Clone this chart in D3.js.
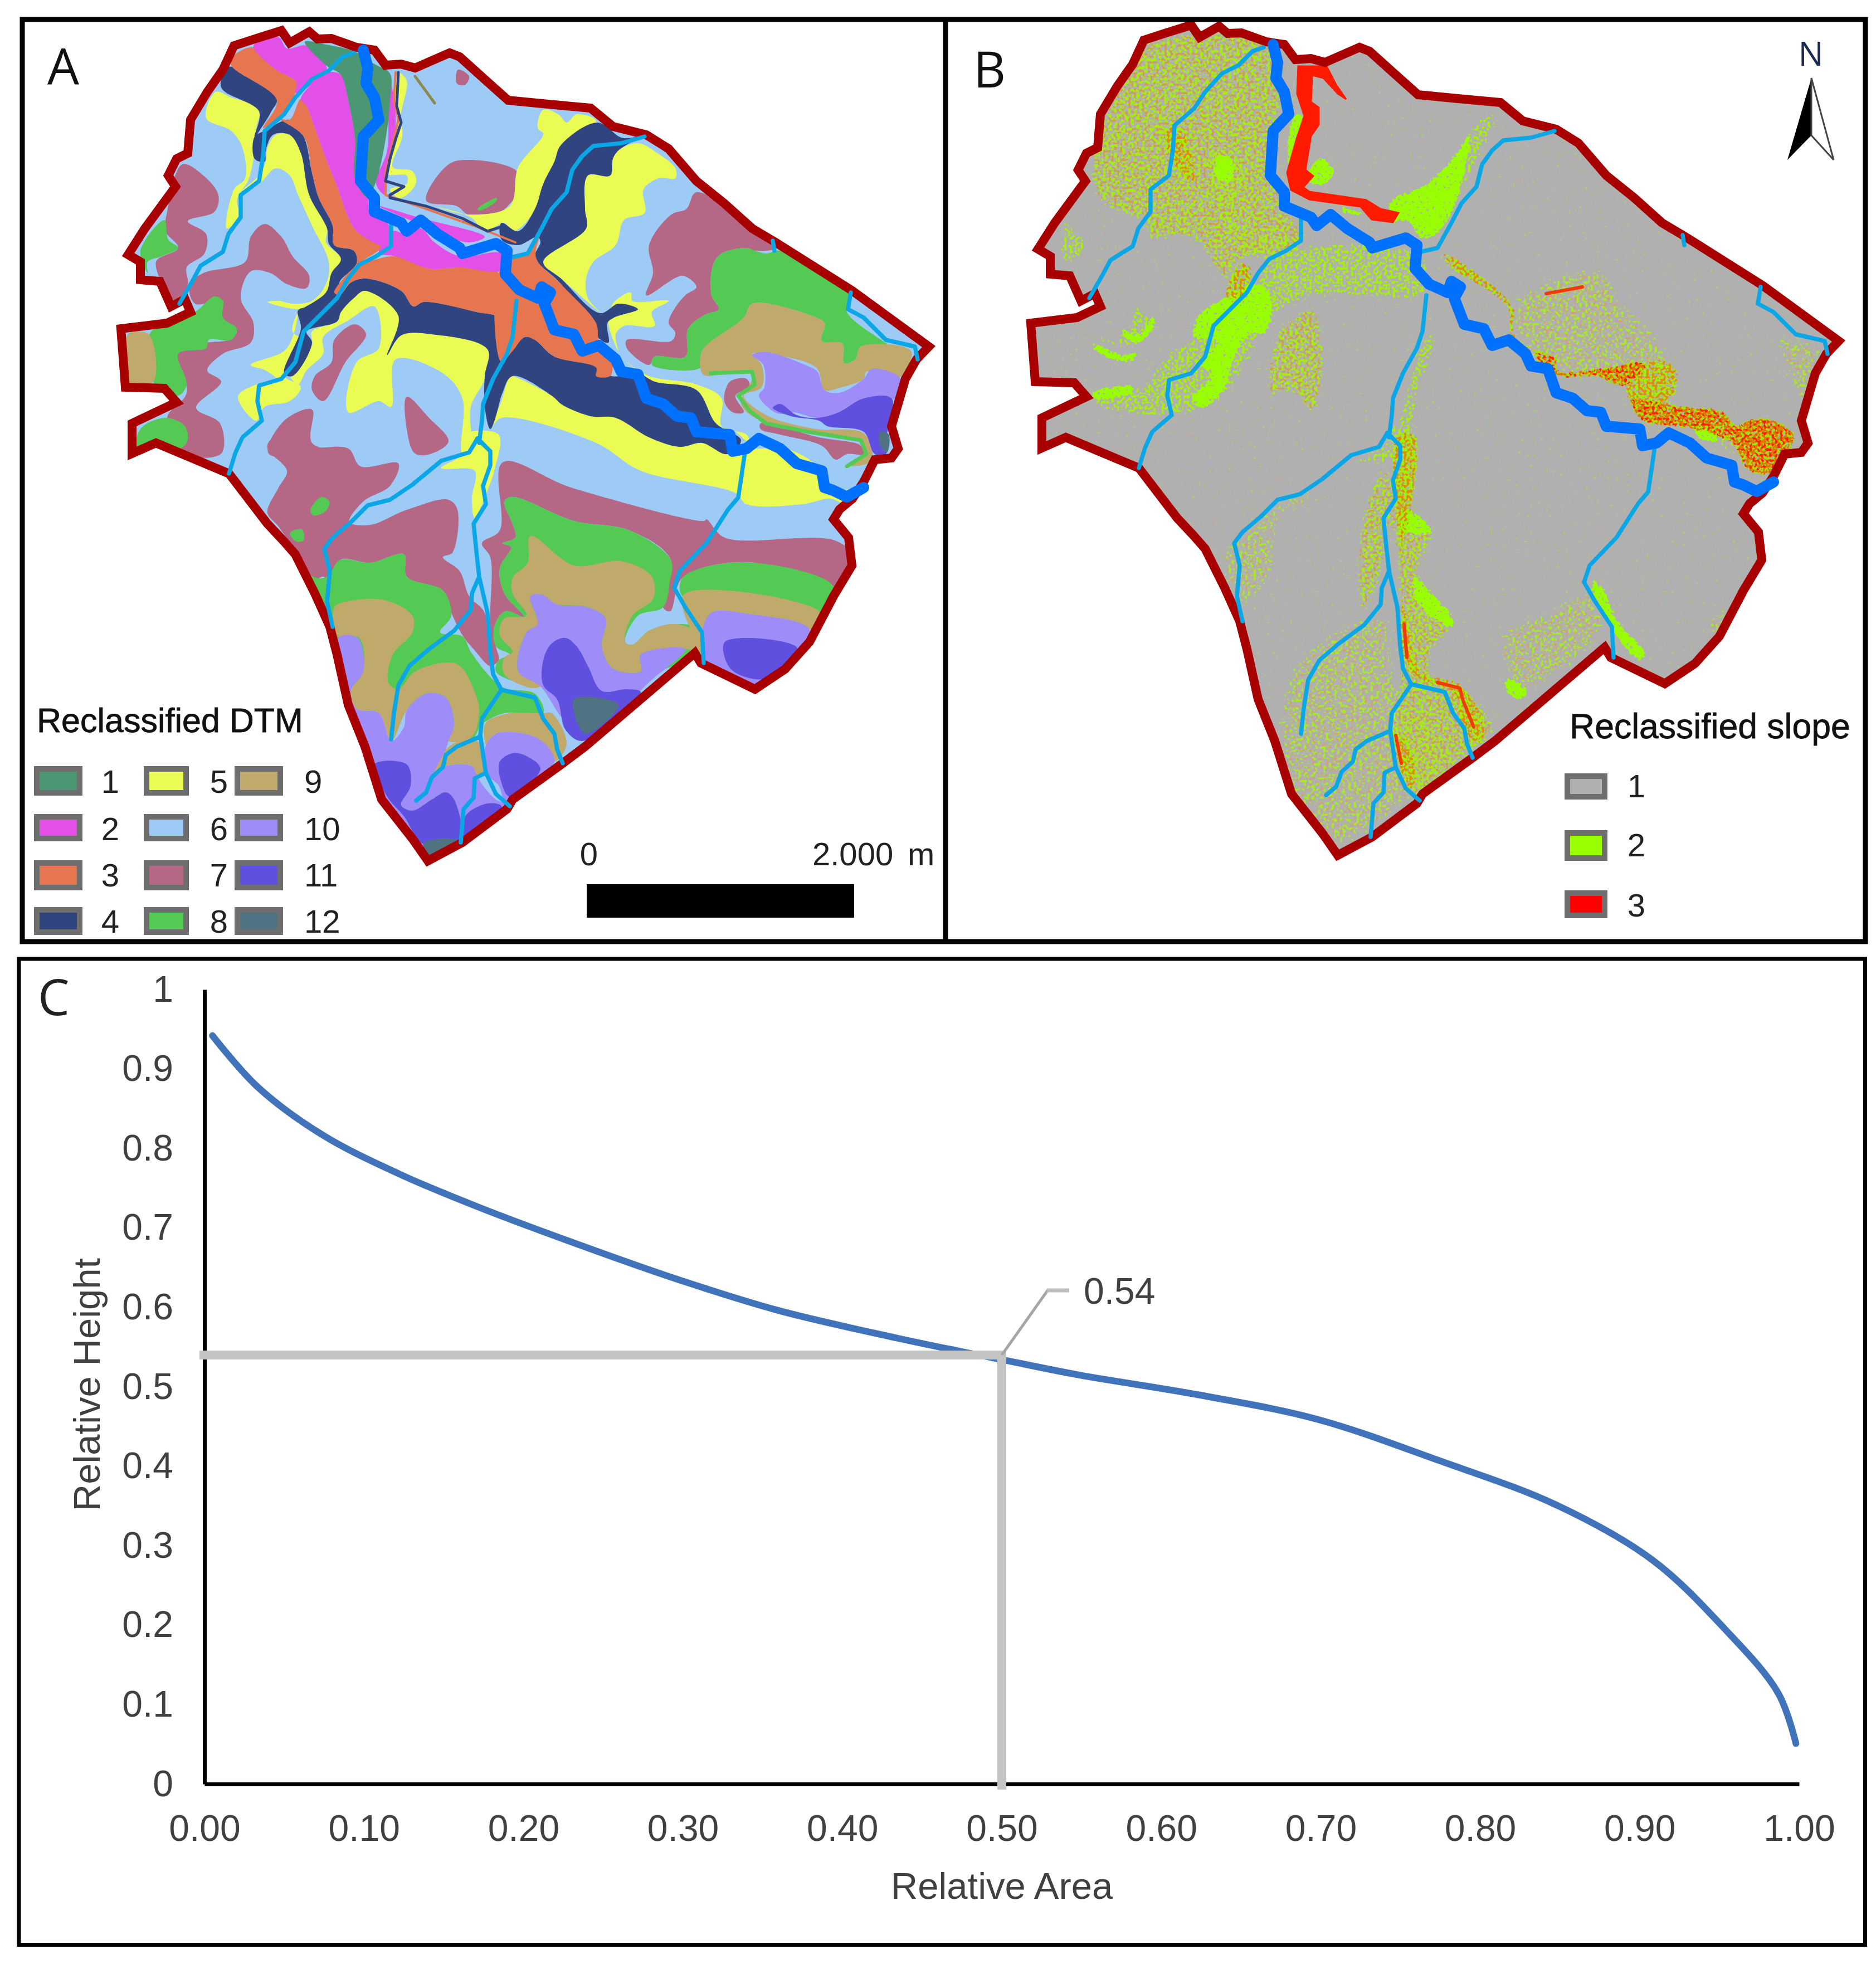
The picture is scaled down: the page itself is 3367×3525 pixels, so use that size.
<!DOCTYPE html>
<html>
<head>
<meta charset="utf-8">
<script src="https://cdn.jsdelivr.net/npm/d3@7/dist/d3.min.js"></script>
<style>
  html, body { margin: 0; background: #fff; }
  text { font-family: "Liberation Sans", Arial, sans-serif; }
  .letter { font-family: "Open Sans", sans-serif; }
  .map-text { stroke: #111; stroke-width: 0.8; }
</style>
</head>
<body>
<svg id="fig" width="3367" height="3525"></svg>
<script>
// ---- chart C values
const curveArea = [0.005, 0.033, 0.074, 0.122, 0.172, 0.247, 0.30, 0.36, 0.435, 0.473, 0.503, 0.548, 0.623, 0.698, 0.773, 0.848, 0.908, 0.953, 0.987, 0.998];
const curveHeight = [0.942, 0.878, 0.817, 0.768, 0.726, 0.67, 0.633, 0.596, 0.561, 0.545, 0.533, 0.515, 0.49, 0.459, 0.408, 0.351, 0.282, 0.196, 0.114, 0.051];
const xTicks = [0, 0.1, 0.2, 0.3, 0.4, 0.5, 0.6, 0.7, 0.8, 0.9, 1];
const yTicks = [0, 0.1, 0.2, 0.3, 0.4, 0.5, 0.6, 0.7, 0.8, 0.9, 1];
const guideArea = 0.5;
const guideHeight = 0.54;

// ---- map legends
const dtmClasses = [1, 2, 3, 4, 5, 6, 7, 8, 9, 10, 11, 12];
const dtmColors = ["#4B9673", "#E350E8", "#E5764F", "#30457F", "#EAFC54", "#9ECAF6", "#B56786", "#54C954", "#BFAA6C", "#9E8CF8", "#5F50E0", "#507383"];
const slopeClasses = [1, 2, 3];
const slopeColors = ["#B0B0B0", "#99FF00", "#FF0000"];
const scaleBarMetres = [0, 2000];

// ---- basin outline and streams, map units
const basin = [[420,82],[460,69],[505,55],[520,77],[555,57],[570,70],[595,69],[640,85],[672,90],[692,117],[720,115],[745,122],[807,95],[825,102],[875,147],[912,180],[984,187],[1060,194],[1100,227],[1160,242],[1200,267],[1250,325],[1300,365],[1350,410],[1392,435],[1530,522],[1667,622],[1645,645],[1625,680],[1600,765],[1612,805],[1600,822],[1570,825],[1550,865],[1530,895],[1507,914],[1496,932],[1523,965],[1529,1015],[1496,1070],[1453,1152],[1409,1201],[1355,1237],[1258,1190],[1247,1172],[1050,1340],[1010,1370],[920,1435],[910,1452],[830,1512],[768,1545],[740,1505],[685,1435],[655,1340],[625,1265],[605,1175],[592,1125],[565,1065],[530,995],[510,972],[480,940],[411,850],[280,795],[237,814],[237,760],[317,722],[295,697],[225,695],[217,590],[300,580],[342,560],[332,537],[307,550],[287,505],[252,502],[252,470],[230,457],[260,410],[315,335],[302,315],[317,285],[337,275],[342,215],[372,165],[400,125]];

const mainStem = [[652,90],[660,122],[657,150],[672,175],[680,215],[652,245],[647,325],[672,355],[672,380],[720,400],[730,415],[755,395],[785,420],[825,445],[830,455],[890,437],[910,450],[907,492],[932,520],[965,535],[972,515],[988,525],[977,545],[995,592],[1030,600],[1045,630],[1075,620],[1105,645],[1115,667],[1145,672],[1160,715],[1190,725],[1215,747],[1240,750],[1250,775],[1310,780],[1315,810],[1340,805],[1362,787],[1400,805],[1430,832],[1475,845],[1480,875],[1495,880],[1520,892],[1550,875]];
const tributaries = [
  [[635,95],[615,102],[590,127],[560,142],[530,175],[510,205],[475,235],[472,280],[465,325],[432,350],[432,390],[410,420],[400,452],[360,477],[345,505],[322,545]],
  [[702,402],[702,442],[675,460],[645,475],[625,500],[605,535],[570,570],[545,595],[530,650],[505,680],[465,692],[462,720],[470,755],[435,785],[422,814],[411,850]],
  [[927,540],[920,605],[910,635],[885,680],[867,725],[865,755],[860,795],[857,787]],
  [[857,787],[842,812],[792,827],[740,870],[700,897],[660,907],[630,937],[597,965],[582,985],[592,1025],[587,1080],[597,1125]],
  [[857,787],[880,810],[880,835],[867,872],[872,905],[850,940],[855,990],[860,1035],[875,1100],[880,1170],[885,1210],[900,1238]],
  [[860,1035],[847,1065],[845,1095],[815,1132],[770,1165],[735,1195],[715,1230],[707,1280],[702,1327]],
  [[900,1238],[960,1252],[975,1290],[995,1317],[1000,1345],[1010,1370]],
  [[900,1238],[865,1290],[862,1320],[872,1387]],
  [[862,1322],[820,1340],[800,1355],[795,1377],[775,1395],[765,1422],[747,1437]],
  [[872,1387],[852,1397],[850,1432],[832,1452],[827,1512]],
  [[872,1387],[890,1425],[915,1447]],
  [[1157,245],[1115,257],[1065,262],[1045,280],[1027,305],[1017,345],[990,375],[972,410],[947,455],[917,462]],
  [[1527,525],[1522,555],[1550,570],[1590,610],[1642,622],[1647,645]],
  [[1337,812],[1330,860],[1325,893],[1307,914],[1268,975],[1220,1025],[1210,1055],[1230,1090],[1260,1135],[1263,1190]],
  [[1387,432],[1390,450]]
];

// ---- panel A, zones per DTM class (painted in this order over class 6)
const mauveZones = [
  [[327,295],[365,315],[392,350],[385,380],[337,397],[370,420],[367,455],[335,480],[337,510],[315,540],[280,470],[320,445],[297,415],[300,380]],
  [[340,510],[365,490],[440,470],[450,425],[475,402],[505,425],[525,460],[555,495],[550,517],[515,510],[485,490],[450,487],[432,535],[455,580],[450,615],[400,635],[372,665],[397,685],[352,732],[395,760],[397,814],[330,814],[300,750],[335,705],[320,630],[370,615],[410,610],[425,595],[395,565],[400,540],[350,545]],
  [[637,582],[657,600],[620,650],[580,720],[560,700],[565,675],[595,650],[600,610]],
  [[730,712],[770,750],[805,792],[775,814],[745,814],[730,770]],
  [[765,360],[805,295],[845,287],[925,305],[937,330],[920,360],[890,385],[840,385],[820,370]],
  [[822,125],[842,137],[835,152],[820,150]],
  [[480,920],[500,875],[515,845],[480,805],[485,790],[550,770],[555,800],[625,805],[647,837],[715,832],[700,872],[652,900],[627,937],[665,942],[730,915],[805,897],[821,915],[812,992],[795,1000],[825,1025],[842,1070],[870,1100],[880,1195],[850,1165],[830,1140],[810,1100],[795,1060],[730,1035],[725,995],[665,1010],[610,1005],[600,1050],[580,1035],[565,1040],[530,990],[500,945]],
  [[482,814],[510,755],[560,735],[560,795],[630,814]],
  [[902,830],[1025,875],[1264,935],[1268,932],[1301,965],[1501,971],[1539,1009],[1507,1059],[1344,1009],[1225,1037],[1203,1097],[1190,1090],[1204,1005],[1130,952],[1030,935],[920,892],[905,900],[920,940],[925,965],[902,975],[917,982],[897,1020],[905,1065],[940,1107],[907,1097],[887,1125],[890,1160],[895,1185],[880,1195],[880,1100],[880,1000],[865,975],[897,952]],
  [[1250,345],[1392,445],[1355,450],[1340,445],[1295,455],[1280,475],[1277,530],[1290,555],[1265,565],[1235,590],[1230,640],[1175,640],[1165,655],[1125,625],[1125,610],[1205,612],[1212,597],[1200,580],[1210,555],[1230,530],[1250,515],[1225,495],[1160,530],[1172,490],[1165,440],[1205,385],[1232,375]],
  [[1310,685],[1340,680],[1345,695],[1320,710],[1335,740],[1315,740],[1300,720]],
  [[1365,760],[1470,785],[1545,800],[1550,815],[1520,815],[1500,825],[1475,800],[1400,780],[1365,770]]
];
const greenZones = [
  [[252,450],[295,395],[302,430],[320,445],[290,460],[265,470],[265,490]],
  [[270,597],[350,560],[385,532],[400,540],[400,570],[425,590],[415,610],[375,610],[370,625],[320,635],[335,690],[320,710],[275,685]],
  [[252,770],[297,750],[332,765],[335,795],[300,814],[270,810],[245,820]],
  [[857,375],[892,355],[890,362],[860,378]],
  [[557,915],[577,892],[591,900],[585,917],[562,925]],
  [[520,957],[542,950],[545,970],[532,972]],
  [[530,990],[562,1035],[587,1035],[610,1005],[665,1010],[725,995],[730,1035],[795,1060],[810,1105],[790,1135],[830,1142],[845,1170],[880,1215],[905,1235],[960,1245],[975,1280],[905,1280],[865,1300],[847,1325],[780,1280],[705,1255],[630,1230],[590,1105]],
  [[905,900],[920,892],[1030,935],[1130,952],[1204,1005],[1202,1045],[1190,1090],[1145,1105],[1122,1152],[1135,1157],[1165,1132],[1215,1120],[1264,1130],[1264,1165],[1080,1230],[1005,1230],[930,1225],[890,1205],[895,1185],[915,1175],[890,1160],[887,1125],[907,1097],[940,1107],[905,1065],[897,1020],[917,982],[902,975],[925,965],[920,940]],
  [[1225,1037],[1333,1009],[1496,1053],[1474,1102],[1344,1064],[1225,1070]],
  [[1295,455],[1340,445],[1355,450],[1375,455],[1400,450],[1525,525],[1520,560],[1605,630],[1545,622],[1535,645],[1515,652],[1512,617],[1475,612],[1480,580],[1465,570],[1350,545],[1335,570],[1260,630],[1257,660],[1170,655],[1175,640],[1230,640],[1235,590],[1265,565],[1290,555],[1277,530],[1280,475]]
];
const tanZones = [
  [[230,600],[267,600],[275,685],[230,685]],
  [[600,1090],[620,1080],[690,1077],[740,1105],[740,1135],[705,1175],[697,1225],[715,1237],[745,1205],[820,1192],[855,1250],[860,1280],[847,1322],[805,1330],[815,1300],[800,1252],[765,1245],[730,1275],[702,1330],[680,1280],[640,1272],[630,1240],[652,1205],[645,1145],[605,1142]],
  [[800,1345],[847,1325],[867,1345],[872,1387],[852,1392],[847,1375],[800,1375],[780,1387]],
  [[870,1300],[905,1282],[975,1280],[990,1280],[1017,1335],[995,1367],[965,1325],[895,1315],[880,1325],[875,1345]],
  [[952,962],[1030,1015],[1115,1007],[1170,1035],[1172,1075],[1135,1105],[1122,1152],[1135,1157],[1165,1132],[1215,1120],[1264,1145],[1264,1170],[1230,1165],[1150,1175],[1150,1205],[1100,1200],[1080,1160],[1087,1110],[1055,1090],[1000,1085],[952,1070],[965,1120],[945,1135],[930,1205],[972,1230],[955,1235],[905,1210],[905,1180],[920,1170],[897,1140],[905,1110],[945,1105],[920,1065],[920,1037],[947,1010]],
  [[1225,1070],[1344,1064],[1474,1102],[1453,1130],[1344,1102],[1274,1108],[1263,1163]],
  [[1260,630],[1335,570],[1350,545],[1465,570],[1480,580],[1475,612],[1512,617],[1515,652],[1535,645],[1545,622],[1635,630],[1615,677],[1555,667],[1550,680],[1510,695],[1480,700],[1465,660],[1375,635],[1350,635],[1367,655],[1367,695],[1335,710],[1375,745],[1465,770],[1545,775],[1565,800],[1560,830],[1520,835],[1550,815],[1545,790],[1480,780],[1375,760],[1330,725],[1350,675],[1325,665],[1270,675],[1260,670]]
];
const violetZones = [
  [[607,1145],[642,1145],[652,1205],[630,1240],[640,1272],[680,1280],[702,1330],[725,1305],[730,1275],[765,1245],[800,1252],[815,1300],[805,1330],[800,1345],[780,1387],[800,1375],[847,1375],[855,1390],[867,1410],[890,1435],[910,1445],[830,1515],[765,1545],[740,1505],[685,1430],[650,1330]],
  [[880,1325],[895,1315],[965,1325],[995,1367],[910,1445],[895,1410],[872,1387],[870,1345]],
  [[952,1070],[972,1067],[1000,1085],[1055,1090],[1087,1110],[1080,1160],[1100,1200],[1150,1205],[1150,1175],[1230,1165],[1170,1220],[1050,1320],[1010,1290],[970,1232],[930,1205],[945,1135],[965,1120]],
  [[1274,1102],[1344,1102],[1453,1130],[1420,1185],[1355,1234],[1263,1185]],
  [[1350,637],[1375,632],[1445,655],[1467,667],[1480,700],[1507,705],[1550,680],[1565,662],[1617,680],[1605,717],[1550,715],[1505,740],[1467,750],[1425,740],[1395,742],[1362,710],[1372,695],[1370,655]]
];
const indigoZones = [
  [[672,1372],[730,1372],[737,1410],[720,1445],[740,1455],[775,1435],[800,1422],[815,1435],[825,1505],[760,1515],[725,1465],[695,1430]],
  [[835,1465],[875,1442],[900,1447],[830,1510]],
  [[897,1367],[920,1352],[945,1357],[970,1380],[915,1430],[900,1405]],
  [[990,1155],[1015,1145],[1035,1160],[1055,1195],[1080,1240],[1125,1237],[1150,1242],[1045,1330],[1015,1310],[1000,1255],[975,1230],[975,1185]],
  [[1301,1152],[1431,1163],[1377,1218],[1312,1201]],
  [[1387,732],[1400,725],[1430,745],[1467,750],[1505,740],[1550,715],[1600,715],[1592,780],[1590,815],[1570,815],[1550,775],[1485,765],[1470,755],[1420,747]]
];
const slateZones = [
  [[760,1515],[790,1505],[825,1510],[775,1545]],
  [[1030,1255],[1110,1265],[1050,1317]],
  [[1580,775],[1595,780],[1592,812],[1580,800]]
];
const yellowZones = [
  [[880,770],[900,720],[915,675],[920,675],[990,710],[1010,727],[1060,747],[1105,750],[1165,785],[1220,802],[1260,795],[1305,815],[1340,807],[1370,805],[1410,805],[1465,835],[1490,880],[1525,880],[1520,905],[1490,895],[1440,905],[1340,905],[1320,885],[1150,845],[1070,795],[900,750]],
  [[832,780],[895,780],[887,845],[875,880],[852,930],[847,895],[852,845],[792,840],[830,815]],
  [[387,165],[415,175],[465,195],[460,230],[455,285],[445,325],[435,340],[425,360],[430,390],[407,410],[420,340],[440,320],[435,265],[415,235],[370,212]],
  [[480,265],[495,242],[520,242],[540,275],[555,350],[587,410],[585,435],[612,465],[595,505],[585,530],[560,550],[532,555],[480,542],[500,540],[525,545],[560,540],[585,510],[590,470],[560,405],[535,350],[520,315],[495,302],[465,330],[435,342],[465,315],[477,290]],
  [[535,560],[527,600],[510,630],[450,655],[477,665],[500,685],[460,690],[427,712],[460,755],[475,730],[520,720],[540,695],[510,675],[525,660],[560,620],[525,595]],
  [[560,595],[605,577],[612,560],[635,535],[655,522],[715,567],[695,637],[720,602],[775,600],[875,627],[870,680],[845,730],[845,814],[830,814],[830,715],[795,670],[710,645],[702,730],[680,720],[625,740],[640,650],[680,625],[672,550],[625,575],[580,605],[580,635],[550,665],[535,690],[520,670],[560,620]],
  [[975,197],[1002,205],[1017,220],[1035,205],[1070,217],[1007,260],[995,290],[975,330],[965,370],[922,415],[905,400],[870,415],[845,390],[780,370],[840,385],[915,370],[930,300],[975,240],[965,230]],
  [[715,130],[730,145],[720,205],[722,245],[705,300],[740,307],[747,327],[730,350],[715,355],[700,340],[730,330],[730,315],[695,312],[700,275],[715,230],[710,180]],
  [[1110,270],[1145,257],[1180,275],[1212,302],[1212,320],[1182,320],[1155,340],[1157,382],[1120,395],[1105,440],[1065,470],[1052,500],[1055,535],[1077,560],[1007,500],[975,470],[1052,410],[1050,375],[1055,315],[1095,315],[1100,285]],
  [[1100,545],[1132,525],[1135,540],[1200,540],[1170,560],[1175,585],[1120,585],[1105,600],[1110,630],[1092,580]],
  [[1125,650],[1165,675],[1250,690],[1295,715],[1295,765],[1340,780],[1345,795],[1320,775],[1285,760],[1250,700],[1175,685]]
];
const navyZones = [
  [[900,650],[942,605],[960,610],[995,640],[1070,655],[1097,675],[1145,670],[1175,685],[1250,700],[1285,760],[1330,790],[1305,815],[1260,795],[1220,802],[1165,785],[1105,750],[1060,747],[1010,727],[990,710],[920,675],[900,710],[880,770]],
  [[907,630],[910,605],[895,570],[855,560],[815,550],[760,542],[742,550],[720,522],[657,500],[630,507],[610,530],[590,540],[560,550],[535,557],[540,590],[510,670],[525,675],[560,615],[550,595],[605,577],[612,560],[635,535],[655,522],[715,567],[695,637],[720,602],[775,600],[875,627],[870,675],[870,730],[880,770],[907,670]],
  [[475,235],[520,215],[545,245],[560,310],[572,355],[597,405],[600,440],[635,450],[642,472],[610,505],[605,530],[560,555],[535,560],[585,525],[595,490],[612,465],[590,437],[587,410],[555,350],[540,275],[520,242],[490,242],[477,270],[475,290],[457,285],[457,245]],
  [[410,120],[497,177],[487,200],[472,225],[457,245],[465,200],[397,157]],
  [[1072,220],[1115,247],[1135,247],[1155,242],[1110,270],[1100,285],[1095,315],[1055,315],[1050,375],[1052,410],[975,470],[1007,500],[1077,562],[1110,545],[1145,555],[1102,570],[1090,580],[1092,615],[1072,605],[1007,510],[960,462],[970,435],[965,425],[930,440],[900,430],[900,400],[930,415],[960,375],[975,330],[995,290],[1007,260]]
];
const orangeZones = [
  [[415,117],[420,100],[455,85],[495,125],[532,147],[530,167],[500,210],[472,230],[497,180]],
  [[500,212],[520,215],[540,177],[550,190],[565,230],[585,285],[605,335],[625,390],[640,415],[685,442],[650,470],[710,460],[770,482],[825,480],[890,485],[900,500],[920,515],[925,555],[915,580],[907,630],[910,605],[895,570],[855,560],[760,542],[742,550],[720,522],[657,500],[630,507],[610,530],[600,525],[620,495],[640,472],[635,450],[600,440],[597,405],[572,355],[560,310],[545,245]],
  [[915,460],[950,455],[965,420],[972,412],[962,462],[1007,510],[1070,580],[1075,610],[1097,635],[1100,655],[1095,675],[1070,675],[1070,660],[995,640],[960,610],[942,605],[920,630],[900,650],[890,510]]
];
const magentaZones = [
  [[455,82],[500,67],[515,87],[550,82],[585,117],[585,130],[530,167],[532,147],[495,125]],
  [[540,177],[590,130],[612,135],[625,180],[637,250],[637,320],[660,355],[665,385],[695,400],[702,430],[700,445],[685,442],[640,415],[625,390],[605,335],[585,285],[565,230],[550,190]],
  [[700,445],[705,415],[730,420],[755,410],[780,435],[825,460],[900,455],[900,485],[825,480],[770,482],[710,460],[680,455],[685,442]],
  [[700,145],[710,205],[705,270],[695,295],[692,350],[675,330],[695,270],[697,200]],
  [[680,370],[750,390],[870,425],[840,435],[760,405]]
];
const tealZones = [
  [[547,75],[585,80],[635,92],[672,115],[700,132],[700,180],[692,250],[675,325],[660,355],[637,320],[637,250],[625,180],[612,135],[585,117]]
];
const thinGreenBand = [[1275,670],[1350,667],[1355,690],[1325,710],[1345,737],[1375,760],[1450,775],[1545,790],[1555,815],[1520,837]];
const ridgeNavy = [[715,130],[712,190],[720,220],[710,250],[700,285],[692,325],[725,335],[700,350],[700,355],[765,370],[830,392],[875,415],[900,407],[935,435]];
const ridgeOrange = [[710,130],[707,180],[715,215],[692,310],[692,350],[765,375],[850,405],[925,435]];
const ridgeOlive = [[745,137],[780,185]];

// ---- panel B, slope zones
const mixedZones = [
  [[400,90],[650,85],[672,366],[715,428],[690,472],[605,480],[564,520],[505,445],[420,445],[415,415],[340,378],[318,305],[350,200]],
  [[656,601],[727,555],[747,703],[722,764],[681,718],[640,728]],
  [[875,790],[915,790],[915,940],[945,960],[920,1040],[980,1130],[945,1180],[945,1220],[1000,1240],[1055,1320],[1000,1375],[905,1445],[860,1315],[875,1215]],
  [[812,915],[852,835],[852,1045],[807,1120],[797,1015]]
];
const faintZones = [
  [[416,840],[533,744],[666,703],[615,754],[462,780]],
  [[680,1195],[867,1105],[882,1220],[997,1370],[907,1450],[827,1515],[767,1540],[660,1395]],
  [[545,1010],[584,960],[667,895],[740,860],[722,925],[672,950],[667,1035],[597,1115]],
  [[1075,540],[1127,505],[1227,480],[1270,498],[1282,540],[1337,590],[1382,660],[1382,730],[1460,748],[1592,788],[1560,860],[1500,860],[1405,795],[1305,765],[1280,715],[1175,695],[1080,625]],
  [[1415,1125],[1480,1085],[1495,1130],[1440,1178]],
  [[1050,1142],[1142,1095],[1217,1055],[1255,1090],[1255,1155],[1170,1230],[1082,1270],[1062,1232]],
  [[1472,585],[1650,632],[1600,765],[1520,590]]
];
const paleZones = [
  [[640,470],[918,462],[930,542],[717,550],[610,605]],
  [[865,840],[885,715],[925,605],[950,610],[915,730],[905,840]],
  [[1062,205],[1012,228],[972,293],[905,358],[905,432],[952,432],[1003,342],[1042,262]],
  [[273,397],[324,458],[273,489]],
  [[299,616],[401,637],[447,601],[401,550],[380,606],[309,610]],
  [[314,718],[411,698],[462,637],[523,601],[564,550],[630,550],[635,601],[564,728],[462,764],[329,739]],
  [[783,840],[845,805],[860,754],[870,840]],
  [[538,269],[615,320],[595,407],[697,438],[666,468],[605,473],[533,366]]
];
const denseGreenZones = [
  [[860,371],[926,338],[972,292],[1006,246],[985,368],[948,430],[918,440],[893,409],[860,409]],
  [[640,525],[652,552],[640,610],[612,612],[582,660],[568,706],[525,745],[502,726],[538,683],[517,662],[548,621],[507,618],[518,572],[560,545],[610,518]],
  [[737,290],[764,320],[737,345],[708,331]],
  [[905,1040],[934,1068],[975,1115],[975,1138],[940,1124],[902,1082]],
  [[895,925],[934,952],[940,968],[875,965]],
  [[1070,1226],[1110,1248],[1099,1268],[1068,1252]],
  [[1225,1045],[1255,1085],[1255,1110],[1224,1078]],
  [[1405,776],[1455,771],[1449,803],[1415,799]],
  [[324,714],[401,701],[403,715],[330,728]],
  [[329,625],[385,646],[406,638],[408,654],[385,662],[329,639]],
  [[380,598],[411,608],[436,573],[442,590],[411,628],[380,614]],
  [[1243,1060],[1272,1123],[1323,1183],[1310,1198],[1256,1137],[1230,1075]],
  [[554,285],[584,300],[574,341],[544,326]],
  [[689,213],[709,218],[699,305],[679,310]],
  [[773,380],[819,394],[865,414],[885,414],[923,438],[870,411],[819,402],[773,390]]
];
const warmZones = [
  [[564,550],[590,479],[615,489],[595,550]],
  [[452,239],[482,325],[513,341],[490,239]],
  [[872,790],[910,790],[900,940],[880,1040],[900,1130],[920,1212],[990,1236],[1036,1318],[1017,1350],[985,1308],[970,1254],[915,1234],[884,1192],[878,1040]],
  [[864,1320],[895,1338],[910,1425],[895,1428],[869,1365]],
  [[957,462],[1085,557],[1088,610],[1126,640],[1105,644],[1075,612],[1068,562],[960,484]],
  [[1307,660],[1372,660],[1379,710],[1357,735],[1292,735],[1282,705]]
];
const hotZones = [
  [[1120,636],[1162,651],[1165,671],[1257,666],[1307,656],[1326,663],[1289,704],[1265,704],[1235,689],[1170,689],[1120,654]],
  [[1290,726],[1387,736],[1460,746],[1490,776],[1560,786],[1580,798],[1560,848],[1505,854],[1495,824],[1445,794],[1380,779],[1315,769]],
  [[1487,772],[1532,757],[1590,788],[1575,832],[1550,862],[1505,858],[1480,812]]
];
const redZones = [
  [[697,129],[748,129],[765,162],[783,188],[768,178],[742,150],[722,145],[720,193],[734,203],[734,234],[720,254],[710,315],[724,326],[706,346],[717,354],[819,369],[845,385],[877,392],[867,409],[829,404],[809,381],[717,368],[684,351],[677,320],[694,259],[708,218],[695,178]]
];
const redLines = [
  [[1142,537],[1207,525]],
  [[887,1130],[892,1190]],
  [[947,1235],[987,1245],[992,1265],[1012,1315]],
  [[872,1330],[882,1380]]
];

// ---- layout
const W = 3367, H = 3525;
const svg = d3.select("#fig").attr("viewBox", `0 0 ${W} ${H}`);
const defs = svg.append("defs");

const panels = {
  a: { x: d3.scaleLinear().domain([0, 1]).range([0, 1]), y: d3.scaleLinear().domain([0, 1]).range([0, 1]) },
  b: { x: d3.scaleLinear().domain([0, 1]).range([1633, 1634]), y: d3.scaleLinear().domain([0, 1]).range([-10, -9]) }
};

function pathFor(panel, curve) {
  return d3.line().x(d => panel.x(d[0])).y(d => panel.y(d[1])).curve(curve);
}

function addSpeckle(id, color, threshold, freq, seed, blur) {
  const f = defs.append("filter").attr("id", id)
    .attr("filterUnits", "userSpaceOnUse")
    .attr("x", 0).attr("y", 0).attr("width", W).attr("height", H)
    .attr("color-interpolation-filters", "sRGB");
  f.append("feTurbulence").attr("type", "fractalNoise").attr("baseFrequency", freq)
    .attr("numOctaves", 1).attr("seed", seed).attr("result", "n");
  f.append("feColorMatrix").attr("in", "n").attr("type", "matrix")
    .attr("values", "0 0 0 0 0  0 0 0 0 0  0 0 0 0 0  1 0 0 0 0").attr("result", "na");
  f.append("feGaussianBlur").attr("in", "SourceAlpha").attr("stdDeviation", blur).attr("result", "b");
  f.append("feComposite").attr("in", "na").attr("in2", "b").attr("operator", "arithmetic")
    .attr("k1", 0).attr("k2", 1).attr("k3", 1).attr("k4", -(1 + threshold)).attr("result", "c");
  f.append("feComponentTransfer").attr("in", "c").attr("result", "m")
    .append("feFuncA").attr("type", "linear").attr("slope", 14).attr("intercept", 0);
  f.append("feFlood").attr("flood-color", color).attr("result", "fc");
  f.append("feComposite").attr("in", "fc").attr("in2", "m").attr("operator", "in");
}

function fillZones(g, panel, zones, color) {
  const smooth = pathFor(panel, d3.curveCatmullRomClosed.alpha(0.5));
  g.selectAll(null).data(zones).join("path").attr("d", smooth).attr("fill", color);
}

function strokeLines(g, panel, lines, color, width) {
  const line = pathFor(panel, d3.curveLinear);
  g.selectAll(null).data(lines).join("path").attr("d", line)
    .attr("fill", "none").attr("stroke", color).attr("stroke-width", width)
    .attr("stroke-linejoin", "round").attr("stroke-linecap", "round");
}

function speckled(g, panel, zones, id, color, threshold, seed, blur) {
  addSpeckle(id, color, threshold, 0.2, seed, blur);
  fillZones(g.append("g").attr("filter", `url(#${id})`), panel, zones, "#000");
}

function basinClip(id, panel) {
  defs.append("clipPath").attr("id", id).append("path")
    .attr("d", pathFor(panel, d3.curveLinearClosed)(basin));
}

function drawBasinEdge(g, panel) {
  g.append("path").attr("d", pathFor(panel, d3.curveLinearClosed)(basin))
    .attr("fill", "none").attr("stroke", "#A80000").attr("stroke-width", 16)
    .attr("stroke-linejoin", "miter");
}

function drawStreams(g, panel) {
  strokeLines(g, panel, tributaries, "#0AA6E6", 7.5);
  strokeLines(g, panel, [mainStem], "#0070FF", 20);
}

// ---- panel A
function drawPanelA() {
  const panel = panels.a;
  basinClip("clip-a", panel);
  const g = svg.append("g").attr("class", "panel-a");
  const zones = g.append("g").attr("clip-path", "url(#clip-a)");
  zones.append("path").attr("d", pathFor(panel, d3.curveLinearClosed)(basin)).attr("fill", dtmColors[5]);
  const color = c => dtmColors[dtmClasses.indexOf(c)];
  fillZones(zones, panel, mauveZones, color(7));
  fillZones(zones, panel, greenZones, color(8));
  fillZones(zones, panel, tanZones, color(9));
  strokeLines(zones, panel, [thinGreenBand], color(8), 7);
  fillZones(zones, panel, violetZones, color(10));
  fillZones(zones, panel, indigoZones, color(11));
  fillZones(zones, panel, slateZones, color(12));
  fillZones(zones, panel, yellowZones, color(5));
  fillZones(zones, panel, navyZones, color(4));
  fillZones(zones, panel, orangeZones, color(3));
  fillZones(zones, panel, magentaZones, color(2));
  fillZones(zones, panel, tealZones, color(1));
  strokeLines(zones, panel, [ridgeOrange], color(3), 4);
  strokeLines(zones, panel, [ridgeNavy], color(4), 5);
  strokeLines(zones, panel, [ridgeOlive], "#8A8A50", 5);
  drawBasinEdge(g, panel);
  drawStreams(g, panel);

  g.append("text").attr("class", "letter").attr("x", 85).attr("y", 151).attr("font-size", 90).attr("fill", "#111").text("A");
  g.append("text").attr("class", "map-text").attr("x", 66).attr("y", 1314).attr("font-size", 61).attr("fill", "#111").text("Reclassified DTM");

  const colX = [[61, 148], [258, 339], [421, 508]];
  const rowY = [[1375, 1428], [1461, 1510], [1544, 1598], [1628, 1678]];
  const labelX = [198, 393, 546];
  const labelY = [1402, 1487, 1570, 1653];
  const legend = g.append("g");
  legend.selectAll("rect").data(dtmClasses).join("rect")
    .attr("x", (d, i) => colX[Math.floor(i / 4)][0] + 5)
    .attr("y", (d, i) => rowY[i % 4][0] + 5)
    .attr("width", (d, i) => colX[Math.floor(i / 4)][1] - colX[Math.floor(i / 4)][0] - 10)
    .attr("height", (d, i) => rowY[i % 4][1] - rowY[i % 4][0] - 10)
    .attr("fill", (d, i) => dtmColors[i])
    .attr("stroke", "#6E6E6E").attr("stroke-width", 10);
  legend.selectAll("text").data(dtmClasses).join("text")
    .attr("x", (d, i) => labelX[Math.floor(i / 4)])
    .attr("y", (d, i) => labelY[i % 4])
    .attr("dy", "0.36em")
    .attr("text-anchor", (d, i) => i < 8 ? "middle" : "start")
    .attr("font-size", 58).attr("fill", "#222")
    .text(d => d);

  const barX = d3.scaleLinear().domain(scaleBarMetres).range([1053, 1533]);
  g.append("rect").attr("x", barX(0)).attr("y", 1587).attr("width", barX(2000) - barX(0)).attr("height", 60).attr("fill", "#000");
  g.append("text").attr("x", barX(0) + 4).attr("y", 1532).attr("dy", "0.36em").attr("text-anchor", "middle").attr("font-size", 58).attr("fill", "#222").text("0");
  g.append("text").attr("x", 1458).attr("y", 1532).attr("dy", "0.36em").attr("font-size", 58).attr("fill", "#222").text("2.000");
  g.append("text").attr("x", 1629).attr("y", 1532).attr("dy", "0.36em").attr("font-size", 58).attr("fill", "#222").text("m");
}

// ---- panel B
function drawPanelB() {
  const panel = panels.b;
  basinClip("clip-b", panel);
  const g = svg.append("g").attr("class", "panel-b");
  const zones = g.append("g").attr("clip-path", "url(#clip-b)");
  zones.append("path").attr("d", pathFor(panel, d3.curveLinearClosed)(basin)).attr("fill", slopeColors[0]);

  speckled(zones, panel, [basin], "sp-sparse-pink", "#C8A590", 0.7, 3, 1);
  speckled(zones, panel, [basin], "sp-sparse-green", "#B2D060", 0.7, 11, 1);
  speckled(zones, panel, faintZones, "sp-faint-green", "#A8E82A", 0.52, 13, 14);
  speckled(zones, panel, faintZones, "sp-faint-brown", "#CFA080", 0.58, 19, 14);
  speckled(zones, panel, paleZones, "sp-pale", "#A4EE10", 0.49, 17, 7);
  speckled(zones, panel, mixedZones, "sp-mixed-green", "#A6EC10", 0.47, 5, 8);
  speckled(zones, panel, mixedZones, "sp-mixed-brown", "#CF9A62", 0.55, 23, 8);
  speckled(zones, panel, denseGreenZones, "sp-dense", slopeColors[1], 0.3, 7, 3);
  speckled(zones, panel, warmZones, "sp-warm-green", "#9EF000", 0.44, 41, 3);
  speckled(zones, panel, warmZones, "sp-warm", "#E08A10", 0.5, 43, 3);
  speckled(zones, panel, hotZones, "sp-hot-green", "#A6E000", 0.38, 29, 3);
  speckled(zones, panel, hotZones, "sp-hot-orange", "#E07800", 0.46, 31, 3);
  speckled(zones, panel, hotZones, "sp-hot-red", "#FF2000", 0.54, 37, 3);
  strokeLines(zones, panel, redLines, "#F03A08", 6);
  zones.selectAll(null).data(redZones).join("path")
    .attr("d", pathFor(panel, d3.curveLinearClosed))
    .attr("fill", "#FF1A00").attr("stroke", "#FF1A00").attr("stroke-width", 3);

  drawBasinEdge(g, panel);
  drawStreams(g, panel);

  g.append("text").attr("class", "letter").attr("x", 1747).attr("y", 157).attr("font-size", 90).attr("fill", "#111").text("B");
  g.append("text").attr("class", "map-text").attr("x", 2817).attr("y", 1325).attr("font-size", 62.5).attr("fill", "#111").text("Reclassified slope");

  const rows = [[1388, 1435], [1490, 1545], [1598, 1648]];
  const labels = [1410, 1516, 1624];
  g.selectAll(".slope-swatch").data(slopeClasses).join("rect").attr("class", "slope-swatch")
    .attr("x", 2813).attr("y", (d, i) => rows[i][0] + 5)
    .attr("width", 67).attr("height", (d, i) => rows[i][1] - rows[i][0] - 10)
    .attr("fill", (d, i) => slopeColors[i]).attr("stroke", "#6E6E6E").attr("stroke-width", 10);
  g.selectAll(".slope-label").data(slopeClasses).join("text").attr("class", "slope-label")
    .attr("x", 2937).attr("y", (d, i) => labels[i]).attr("dy", "0.36em").attr("text-anchor", "middle")
    .attr("font-size", 58).attr("fill", "#222").text(d => d);

  // north arrow
  const north = g.append("g");
  north.append("text").attr("class", "letter").attr("x", 3250).attr("y", 118).attr("text-anchor", "middle").attr("font-size", 60).attr("fill", "#1A2A50").text("N");
  north.append("path").attr("d", "M3251 140 L3208 287 L3251 243 Z").attr("fill", "#000");
  north.append("path").attr("d", "M3251 140 L3291 287 L3251 243 Z").attr("fill", "#fff").attr("stroke", "#444").attr("stroke-width", 3);
}

// ---- panel C
function drawPanelC() {
  const x = d3.scaleLinear().domain([0, 1]).range([367, 3229]);
  const y = d3.scaleLinear().domain([0, 1]).range([3202, 1776]);
  const g = svg.append("g").attr("class", "panel-c");
  const points = curveArea.map((a, i) => [a, curveHeight[i]]);

  const xAxis = g.append("g").attr("transform", `translate(0,${y(0)})`)
    .call(d3.axisBottom(x).tickValues(xTicks).tickFormat(d3.format(".2f")).tickSize(0).tickPadding(55));
  const yAxis = g.append("g").attr("transform", `translate(${x(0)},0)`)
    .call(d3.axisLeft(y).tickValues(yTicks).tickFormat(d => d).tickSize(0).tickPadding(56));
  [xAxis, yAxis].forEach(a => {
    a.selectAll("text").attr("font-size", 66).attr("font-family", null).attr("fill", "#404040");
    a.select(".domain").attr("stroke", "#000").attr("stroke-width", 7);
  });
  g.selectAll(".tick line").remove();

  g.append("path").datum(points)
    .attr("d", d3.line().x(d => x(d[0])).y(d => y(d[1])).curve(d3.curveCatmullRom.alpha(0.5)))
    .attr("fill", "none").attr("stroke", "#4173BA").attr("stroke-width", 12).attr("stroke-linecap", "round");

  // guides sit on top of the curve
  g.append("line").attr("x1", 358).attr("x2", x(guideArea) + 8).attr("y1", y(guideHeight)).attr("y2", y(guideHeight))
    .attr("stroke", "#C4C4C4").attr("stroke-width", 16);
  g.append("line").attr("x1", x(guideArea)).attr("x2", x(guideArea)).attr("y1", y(guideHeight)).attr("y2", 3212)
    .attr("stroke", "#C4C4C4").attr("stroke-width", 16);

  // callout
  const cx = x(guideArea), cy = y(guideHeight);
  g.append("path").attr("d", `M${cx} ${cy} L${cx + 83} ${cy - 117}`)
    .attr("fill", "none").attr("stroke", "#A6A6A6").attr("stroke-width", 5);
  g.append("path").attr("d", `M${cx + 81} ${cy - 116} L${cx + 121} ${cy - 116}`)
    .attr("fill", "none").attr("stroke", "#BFBFBF").attr("stroke-width", 7);
  g.append("text").attr("x", cx + 147).attr("y", cy - 116).attr("dy", "0.36em").attr("font-size", 66).attr("fill", "#404040").text(guideHeight);

  g.append("text").attr("x", x(guideArea)).attr("y", 3384).attr("dy", "0.36em").attr("text-anchor", "middle")
    .attr("font-size", 67).attr("fill", "#404040").text("Relative Area");
  g.append("text").attr("transform", "translate(155,2485) rotate(-90)").attr("dy", "0.36em").attr("text-anchor", "middle")
    .attr("font-size", 67).attr("fill", "#404040").text("Relative Height");
  g.append("text").attr("class", "letter").attr("x", 68).attr("y", 1822).attr("font-size", 90).attr("fill", "#222").text("C");
}

// ---- frames
function drawFrames() {
  const g = svg.append("g").attr("fill", "none").attr("stroke", "#000");
  g.append("rect").attr("x", 40).attr("y", 35).attr("width", 3308).attr("height", 1655).attr("stroke-width", 9);
  g.append("line").attr("x1", 1697).attr("x2", 1697).attr("y1", 35).attr("y2", 1690).attr("stroke-width", 9);
  g.append("rect").attr("x", 34).attr("y", 1721).attr("width", 3313.5).attr("height", 1769.5).attr("stroke-width", 7);
}

drawPanelA();
drawPanelB();
drawPanelC();
drawFrames();
</script>
</body>
</html>
